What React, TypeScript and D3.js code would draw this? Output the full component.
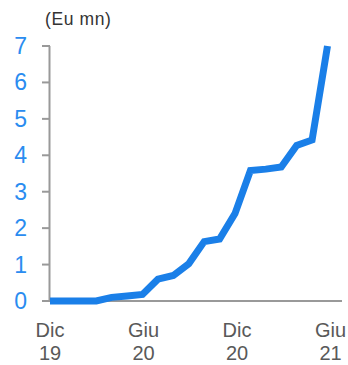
import React from 'react';
import * as d3 from 'd3';

// monthly points, Dic 19 .. Giu 21
const months = ['Dic 19', 'Gen 20', 'Feb 20', 'Mar 20', 'Apr 20', 'Mag 20', 'Giu 20', 'Lug 20', 'Ago 20', 'Set 20', 'Ott 20', 'Nov 20', 'Dic 20', 'Gen 21', 'Feb 21', 'Mar 21', 'Apr 21', 'Mag 21', 'Giu 21'];
const values = [0, 0, 0, 0, 0.1, 0.14, 0.18, 0.6, 0.7, 1.02, 1.63, 1.7, 2.4, 3.58, 3.62, 3.68, 4.27, 4.42, 7.0];
const yTicks = [0, 1, 2, 3, 4, 5, 6, 7];
const xLabels = [['Dic', '19'], ['Giu', '20'], ['Dic', '20'], ['Giu', '21']];
const xLabelIdx = [0, 6, 12, 18];

const margin = { left: 50, top: 46 };
const W = 348, H = 365;
const font = 'Arial, "Liberation Sans", sans-serif';

export default function App() {
  const x = d3.scaleLinear().domain([0, months.length - 1]).range([margin.left, 327.5]);
  const y = d3.scaleLinear().domain([0, 7]).range([301, margin.top]);
  const line = d3.line<number>().x((d, i) => x(i)).y(d => y(d));

  return (
    <svg width={W} height={H} style={{ position: 'absolute', left: 0, top: 0 }}>
      <text x={45} y={24.5} fontFamily={font} fontSize={17.5} letterSpacing={0.6} fill="#333">(Eu mn)</text>
      {/* y axis */}
      <line x1={margin.left - 0.5} x2={margin.left - 0.5} y1={y(7)} y2={y(0)} stroke="#999" strokeWidth={2} />
      {yTicks.map(t => (
        <g key={t}>
          <line x1={42} x2={margin.left} y1={y(t)} y2={y(t)} stroke="#999" strokeWidth={2} />
          <text x={27} y={y(t) + 8} textAnchor="end" fontFamily={font} fontSize={23} fill="#2a8cf0">{t}</text>
        </g>
      ))}
      {/* x axis */}
      <line x1={margin.left - 1} x2={342} y1={y(0)} y2={y(0)} stroke="#999" strokeWidth={2} />
      {xLabelIdx.map((idx, i) => (
        <text key={idx} x={x(idx) + i} textAnchor="middle" fontFamily={font} fontSize={20} fill="#595959">
          <tspan x={x(idx) + i} y={337}>{xLabels[i][0]}</tspan>
          <tspan x={x(idx) + i} y={360}>{xLabels[i][1]}</tspan>
        </text>
      ))}
      <path d={line(values) || ''} fill="none" stroke="#1a7fe8" strokeWidth={7} strokeLinejoin="miter" />
    </svg>
  );
}
